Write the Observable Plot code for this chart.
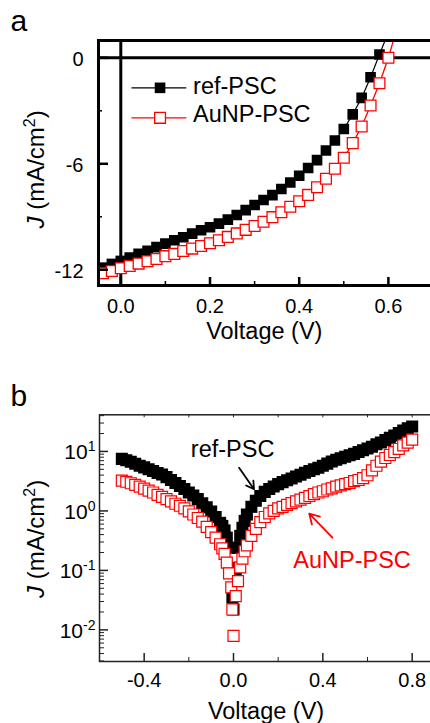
<!DOCTYPE html>
<html><head><meta charset="utf-8">
<script src="https://cdn.jsdelivr.net/npm/d3@7"></script>
<script src="https://cdn.jsdelivr.net/npm/@observablehq/plot@0.6"></script>
<style>
html,body{margin:0;padding:0;background:#fff;overflow:hidden;}
#wrap{width:430px;height:723px;overflow:hidden;position:relative;background:#fff;}
#wrap svg{display:block;}
</style></head><body><div id="wrap"></div>
<script>
// ---------- Panel a data (J-V curves) ----------
const voltA = [-0.04,-0.02,0.00,0.02,0.04,0.06,0.08,0.10,0.12,0.14,0.16,0.18,0.20,0.22,0.24,0.26,0.28,0.30,0.32,0.34,0.36,0.38,0.40,0.42,0.44,0.46,0.48,0.50,0.52,0.54,0.56,0.58,0.60,0.62];
const refA = [-11.88,-11.67,-11.50,-11.31,-11.10,-10.92,-10.72,-10.52,-10.33,-10.16,-9.95,-9.76,-9.59,-9.39,-9.16,-8.90,-8.62,-8.33,-8.05,-7.77,-7.43,-7.06,-6.68,-6.24,-5.79,-5.25,-4.68,-4.03,-3.20,-2.27,-1.10,0.19,1.45];
const auA = [-12.20,-12.07,-11.91,-11.78,-11.65,-11.52,-11.39,-11.23,-11.10,-10.94,-10.80,-10.65,-10.50,-10.33,-10.14,-9.94,-9.74,-9.52,-9.28,-9.02,-8.74,-8.43,-8.12,-7.76,-7.33,-6.85,-6.28,-5.66,-4.83,-3.89,-2.70,-1.44,0.00,1.75];
const xTicksA = [0.0,0.2,0.4,0.6];
const xMinorA = [0.1,0.3,0.5];
const yTicksA = [0,-6,-12];
const yMinorA = [-3,-9];
const seriesNames = ["ref-PSC","AuNP-PSC"];

// ---------- Panel b data (dark J-V, log scale) ----------
const voltB = [-0.50,-0.48,-0.46,-0.44,-0.42,-0.40,-0.38,-0.36,-0.34,-0.32,-0.30,-0.28,-0.26,-0.24,-0.22,-0.20,-0.18,-0.16,-0.14,-0.12,-0.10,-0.08,-0.06,
 -0.05,-0.04,-0.03,-0.02,-0.01,-0.005,0.00,0.01,0.02,0.03,0.04,0.05,
 0.06,0.08,0.10,0.12,0.14,0.16,0.18,0.20,0.22,0.24,0.26,0.28,0.30,0.32,0.34,0.36,0.38,0.40,0.42,0.44,0.46,0.48,0.50,0.52,0.54,0.56,0.58,0.60,0.62,0.64,0.66,0.68,0.70,0.72,0.74,0.76,0.78,0.80];
const refB = [7.5,7.1,6.7,6.2,5.75,5.4,5.0,4.7,4.35,4.1,3.7,3.3,2.95,2.63,2.34,2.04,1.82,1.58,1.35,1.15,0.98,0.79,0.63,
 0.56,0.47,0.355,0.24,0.11,0.035,0.022,0.10,0.24,0.38,0.52,0.68,
 0.87,1.17,1.48,1.78,2.09,2.34,2.57,2.82,3.05,3.27,3.5,3.8,4.07,4.37,4.68,5.0,5.3,5.75,6.24,6.76,7.24,7.67,8.13,8.6,9.1,9.8,10.5,11.2,12.0,13.2,14.1,15.5,17.0,18.6,20.4,22.4,24.5,26.3];
const auB = [3.24,3.09,2.92,2.75,2.57,2.37,2.19,2.04,1.86,1.72,1.58,1.45,1.32,1.22,1.10,0.98,0.87,0.76,0.66,0.54,0.44,0.355,0.275,
 0.234,0.19,0.135,0.089,0.052,0.022,0.0079,0.037,0.066,0.112,0.158,0.21,
 0.263,0.38,0.50,0.65,0.79,0.91,1.0,1.10,1.17,1.26,1.35,1.45,1.55,1.66,1.78,1.91,2.04,2.14,2.29,2.40,2.57,2.69,2.82,2.95,3.16,3.31,3.55,3.98,4.79,5.75,6.76,7.76,8.71,9.77,11.0,12.6,14.1,15.8];
const xTicksB = [-0.4,0.0,0.4,0.8];
const xMinorB = [-0.2,0.2,0.6];
const yTicksB = [0.01,0.1,1,10];
const arrowsB = [
  {x1:0.025, y1:5.34, x2:0.092, y2:2.31, color:"black"},
  {x1:0.443, y1:0.356, x2:0.339, y2:0.90, color:"#ff0000"}
];

const FONT = '"Liberation Sans", Arial, Helvetica, sans-serif';
const RED = "#ff0000";

// ---------- Panel a ----------
const WA=436, HA=350, MLA=98, MRA=3.5, MTA=40, MBA=65;
const pwA = WA-MLA-MRA, phA = HA-MTA-MBA;
const refRowsA = refA.map((j,i)=>({v: voltA[i], j}));
const auRowsA = auA.map((j,i)=>({v: voltA[i], j}));

const svgA = Plot.plot({
  width: WA, height: HA, marginLeft: MLA, marginRight: MRA, marginTop: MTA, marginBottom: MBA,
  style: {fontFamily: FONT, fontSize: "20px", background: "white", color: "black", maxWidth: "none"},
  x: {domain: [-0.05, 0.70]},
  y: {domain: [-12.89, 0.98]},
  marks: [
    Plot.ruleY([0], {stroke: "black", strokeWidth: 3}),
    Plot.ruleX([0], {stroke: "black", strokeWidth: 3}),
    Plot.line(refRowsA, {x: "v", y: "j", stroke: "black", strokeWidth: 1.2, clip: true}),
    Plot.dot(refRowsA, {x: "v", y: "j", symbol: "square", r: 6.0, fill: "black", clip: true}),
    Plot.line(auRowsA, {x: "v", y: "j", stroke: RED, strokeWidth: 1.3, clip: true}),
    Plot.dot(auRowsA, {x: "v", y: "j", symbol: "square", r: 6.1, fill: "white", stroke: RED, strokeWidth: 1.3, clip: true}),
    Plot.tickY(yTicksA, {y: d=>d, insetRight: pwA-10, stroke: "black", strokeWidth: 2.5}),
    Plot.tickY(yMinorA, {y: d=>d, insetRight: pwA-4, stroke: "black", strokeWidth: 1.5}),
    Plot.tickX(xTicksA, {x: d=>d, insetTop: phA-8, stroke: "black", strokeWidth: 2.5}),
    Plot.tickX(xMinorA, {x: d=>d, insetTop: phA-4, stroke: "black", strokeWidth: 1.5}),
    Plot.frame({stroke: "black", strokeWidth: 3}),
    Plot.axisX(xTicksA, {tickSize: 0, tickPadding: 13, tickFormat: d=>d.toFixed(1), fontSize: 20, label: null}),
    Plot.axisY(yTicksA, {tickSize: 0, tickPadding: 15, tickFormat: d=>String(d), fontSize: 20, dy: 2, label: null}),
    // legend
    Plot.ruleY([-1.70], {x1: 0.025, x2: 0.148, stroke: "black", strokeWidth: 1.3}),
    Plot.dot([0], {x: 0.088, y: -1.70, symbol: "square", r: 6.0, fill: "black"}),
    Plot.text([seriesNames[0]], {x: 0.162, y: -1.64, textAnchor: "start", lineAnchor: "middle", fontSize: 23.5}),
    Plot.ruleY([-3.40], {x1: 0.025, x2: 0.148, stroke: RED, strokeWidth: 1.3}),
    Plot.dot([0], {x: 0.088, y: -3.40, symbol: "square", r: 6.1, fill: "white", stroke: RED, strokeWidth: 1.3}),
    Plot.text([seriesNames[1]], {x: 0.162, y: -3.23, textAnchor: "start", lineAnchor: "middle", fontSize: 23.5}),
    // titles
    Plot.text(["Voltage (V)"], {frameAnchor: "bottom", dy: 53, dx: -1.5, lineAnchor: "bottom", fontSize: 23.5}),
    Plot.text(["J (mA/cm2)"], {frameAnchor: "bottom-left", textAnchor: "start", dx: -55, dy: -57, rotate: -90, lineAnchor: "bottom", fontSize: 24}),
    Plot.text(["a"], {frameAnchor: "top-left", dx: 10-MLA, dy: 30-MTA, textAnchor: "start", lineAnchor: "bottom", fontSize: 30})
  ]
});

// ---------- Panel b ----------
const WB=437, HB=373, MLB=99, MRB=3, MTB=64.3, MBB=62;
const pwB = WB-MLB-MRB, phB = HB-MTB-MBB;
const yDomB = [0.00294, 41.3];
const minorB = d3.scaleLog().domain(yDomB).ticks().filter(t => Math.abs(Math.log10(t) - Math.round(Math.log10(t))) > 1e-6);
const refRowsB = refB.map((j,i)=>({v: voltB[i], j}));
const auRowsB = auB.map((j,i)=>({v: voltB[i], j}));

const svgB = Plot.plot({
  width: WB, height: HB, marginLeft: MLB, marginRight: MRB, marginTop: MTB, marginBottom: MBB,
  style: {fontFamily: FONT, fontSize: "20px", background: "white", color: "black", maxWidth: "none"},
  x: {domain: [-0.6, 0.9]},
  y: {type: "log", domain: yDomB},
  marks: [
    Plot.dot(refRowsB, {x: "v", y: "j", symbol: "square", r: 6.8, fill: "black", clip: true}),
    Plot.dot(auRowsB, {x: "v", y: "j", symbol: "square", r: 6.2, fill: "white", stroke: RED, strokeWidth: 1.2, clip: true}),
    Plot.tickY(yTicksB, {y: d=>d, insetRight: pwB-9, stroke: "#222", strokeWidth: 1.5}),
    Plot.tickY(minorB, {y: d=>d, insetRight: pwB-5, stroke: "#222", strokeWidth: 1}),
    Plot.tickX(xTicksB, {x: d=>d, insetTop: phB-8, stroke: "#222", strokeWidth: 1.5}),
    Plot.tickX(xMinorB, {x: d=>d, insetTop: phB-4, stroke: "#222", strokeWidth: 1}),
    Plot.tickX(xTicksB.concat(xMinorB), {x: d=>d, insetBottom: phB-3, stroke: "#222", strokeWidth: 1}),
    Plot.frame({stroke: "#222", strokeWidth: 1.5}),
    Plot.axisX(xTicksB, {tickSize: 0, tickPadding: 11.5, tickFormat: d=>d.toFixed(1), fontSize: 20, label: null}),
    Plot.axisY(yTicksB, {tickSize: 0, tickPadding: 4, tickFormat: d=>"10^"+Math.round(Math.log10(d)), fontSize: 21, dy: 1, label: null}),
    Plot.text([seriesNames[0]], {x: -0.191, y: 8.07, textAnchor: "start", lineAnchor: "bottom", fontSize: 23.5}),
    Plot.text([seriesNames[1]], {x: 0.2676, y: 0.1117, textAnchor: "start", lineAnchor: "bottom", fontSize: 23.5, fill: RED}),
    Plot.arrow(arrowsB, {x1: "x1", y1: "y1", x2: "x2", y2: "y2", stroke: "color", strokeWidth: 1.8, headLength: 10}),
    Plot.text(["Voltage (V)"], {frameAnchor: "bottom", dy: 57.5, dx: -1, lineAnchor: "bottom", fontSize: 23.5}),
    Plot.text(["J (mA/cm2)"], {frameAnchor: "bottom-left", textAnchor: "start", dx: -56, dy: -63.5, rotate: -90, lineAnchor: "bottom", fontSize: 24}),
    Plot.text(["b"], {frameAnchor: "top-left", dx: 10-MLB, dy: 405-350-MTB, textAnchor: "start", lineAnchor: "bottom", fontSize: 30})
  ]
});

// ---------- rich text (italic J, superscripts) ----------
const NS = "http://www.w3.org/2000/svg";
function tspan(txt){ const t = document.createElementNS(NS, "tspan"); t.textContent = txt; return t; }
function richText(svg){
  svg.querySelectorAll("text").forEach(t => {
    const s = t.textContent;
    const m = s.match(/^10\^(-?\d+)$/);
    if (m) {
      t.textContent = "10";
      const sup = tspan(m[1]);
      sup.setAttribute("dy", "-8px");
      sup.setAttribute("font-size", "14px");
      t.appendChild(sup);
    } else if (s === "J (mA/cm2)") {
      t.textContent = "";
      const a = tspan("J"); a.setAttribute("font-style", "italic");
      const b = tspan(" (mA/cm");
      const c = tspan("2"); c.setAttribute("dy", "-9px"); c.setAttribute("font-size", "16px");
      const d = tspan(")"); d.setAttribute("dy", "9px");
      t.append(a, b, c, d);
    }
  });
}
richText(svgA); richText(svgB);
const wrap = document.getElementById("wrap");
wrap.appendChild(svgA);
wrap.appendChild(svgB);
</script></body></html>
